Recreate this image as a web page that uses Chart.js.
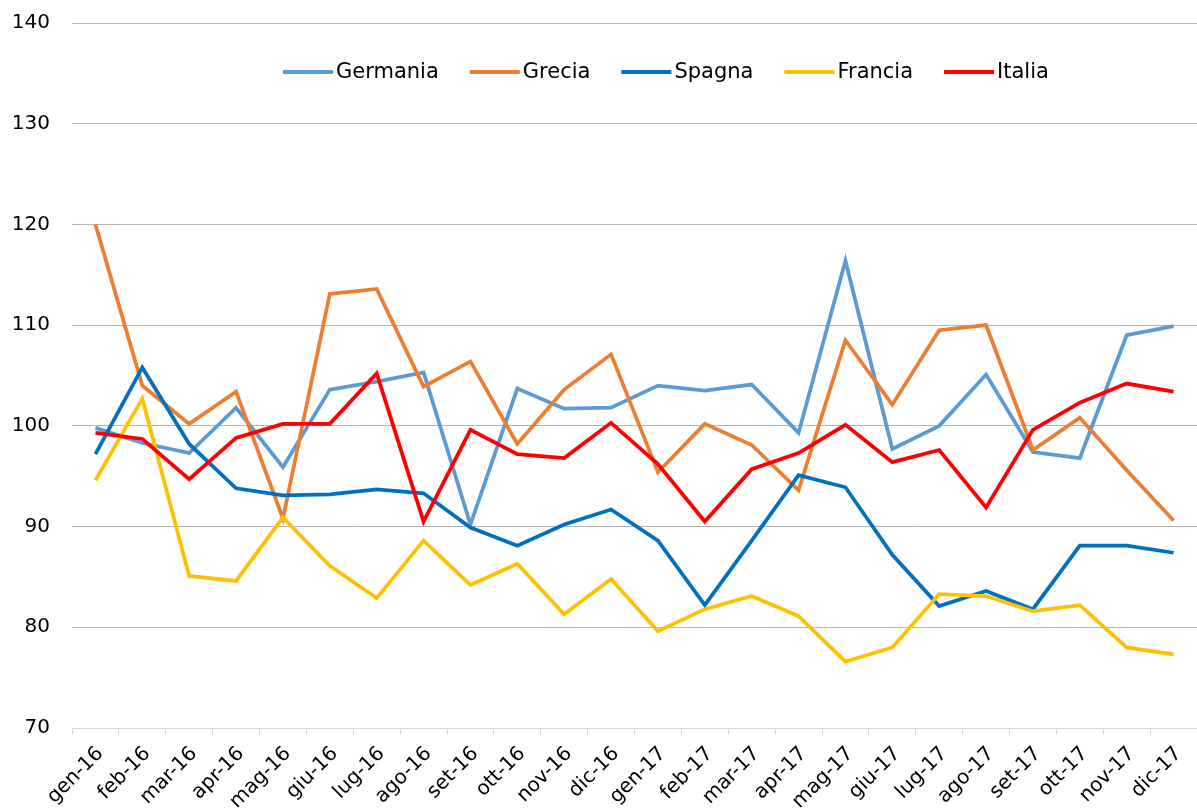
<!DOCTYPE html>
<html>
<head>
<meta charset="utf-8">
<script src="https://cdn.jsdelivr.net/npm/chart.js@4.4.1/dist/chart.umd.min.js"></script>
<style>
  body { margin: 0; background: #fff; }
  #wrap { width: 1197px; height: 808px; }
</style>
</head>
<body>
<div id="wrap"><canvas id="chart"></canvas></div>
<script>
var months = ['gen-16','feb-16','mar-16','apr-16','mag-16','giu-16','lug-16','ago-16','set-16','ott-16','nov-16','dic-16',
              'gen-17','feb-17','mar-17','apr-17','mag-17','giu-17','lug-17','ago-17','set-17','ott-17','nov-17','dic-17'];

var germania = [99.8, 98.3, 97.3, 101.8, 95.9, 103.6, 104.4, 105.3, 90.2, 103.7, 101.7, 101.8,
                104.0, 103.5, 104.1, 99.3, 116.4, 97.7, 100.0, 105.1, 97.4, 96.8, 109.0, 109.9];
var grecia   = [120.0, 104.0, 100.2, 103.4, 90.8, 113.1, 113.6, 103.9, 106.4, 98.2, 103.6, 107.1,
                95.4, 100.2, 98.1, 93.6, 108.5, 102.1, 109.5, 110.0, 97.6, 100.8, 95.6, 90.6];
var spagna   = [97.2, 105.8, 98.2, 93.8, 93.1, 93.2, 93.7, 93.3, 89.9, 88.1, 90.2, 91.7,
                88.6, 82.2, 88.6, 95.1, 93.9, 87.2, 82.1, 83.6, 81.8, 88.1, 88.1, 87.4];
var francia  = [94.6, 102.7, 85.1, 84.6, 90.9, 86.1, 82.9, 88.6, 84.2, 86.3, 81.3, 84.8,
                79.6, 81.8, 83.1, 81.1, 76.6, 78.0, 83.3, 83.1, 81.6, 82.2, 78.0, 77.3];
var italia   = [99.3, 98.7, 94.7, 98.8, 100.2, 100.2, 105.2, 90.5, 99.6, 97.2, 96.8, 100.3,
                96.2, 90.5, 95.7, 97.3, 100.1, 96.4, 97.6, 91.9, 99.6, 102.3, 104.2, 103.4];

var yMin = 70, yMax = 140, yStep = 10;

function line(label, values, color, order) {
    return {
        label: label,
        data: values,
        borderColor: color,
        backgroundColor: color,
        borderWidth: 3.75,
        pointRadius: 0,
        tension: 0,
        fill: false,
        order: order
    };
}

var fontFamily = '"DejaVu Sans", Verdana, sans-serif';
var font = { family: fontFamily, size: 20 };

// legend drawn inside the plot, in dataset order (Excel style)
var innerLegend = {
    id: 'innerLegend',
    afterDraw: function(chart) {
        var ctx = chart.ctx;
        var sets = chart.data.datasets;
        var x = 283, y = 72;
        ctx.save();
        ctx.font = '21px ' + fontFamily;
        ctx.textBaseline = 'middle';
        ctx.textAlign = 'left';
        for (var i = 0; i < sets.length; i++) {
            ctx.strokeStyle = sets[i].borderColor;
            ctx.lineWidth = 4;
            ctx.beginPath();
            ctx.moveTo(x, y);
            ctx.lineTo(x + 50, y);
            ctx.stroke();
            ctx.fillStyle = '#000';
            ctx.fillText(sets[i].label, x + 53, y + 1);
            x += 53 + ctx.measureText(sets[i].label).width + 31;
        }
        ctx.restore();
    }
};

new Chart(document.getElementById('chart').getContext('2d'), {
    type: 'line',
    data: {
        labels: months,
        datasets: [
            line('Germania', germania, '#5b9bd5', 5),
            line('Grecia', grecia, '#ed7d31', 4),
            line('Spagna', spagna, '#0070c0', 3),
            line('Francia', francia, '#ffc000', 2),
            line('Italia', italia, '#ff0000', 1)
        ]
    },
    plugins: [innerLegend],
    options: {
        responsive: true,
        maintainAspectRatio: false,
        animation: false,
        layout: { padding: { left: 12, top: 0, right: 0, bottom: 0 } },
        plugins: {
            tooltip: { enabled: false },
            legend: { display: false }
        },
        scales: {
            x: {
                offset: true,
                grid: {
                    offset: true,
                    drawOnChartArea: false,
                    drawTicks: true,
                    tickLength: 7,
                    color: '#d9d9d9'
                },
                border: { display: true, color: '#d9d9d9', width: 1 },
                ticks: {
                    color: '#000',
                    font: font,
                    minRotation: 45,
                    maxRotation: 45,
                    autoSkip: false,
                    padding: 7,
                    labelOffset: 5
                },
                afterFit: function(scale) {
                    scale.height = 80;
                    scale.paddingLeft = 0;
                    scale.paddingRight = 0;
                }
            },
            y: {
                min: yMin,
                max: yMax,
                ticks: { stepSize: yStep, color: '#000', font: font, padding: 22 },
                grid: {
                    drawTicks: false,
                    color: function(ctx) { return ctx.index === 0 ? '#d9d9d9' : '#b4b4b4'; }
                },
                border: { display: false },
                afterFit: function(scale) {
                    scale.width = 60;
                    scale.paddingTop = 23;
                    scale.paddingBottom = 0;
                }
            }
        }
    }
});
</script>
</body>
</html>
